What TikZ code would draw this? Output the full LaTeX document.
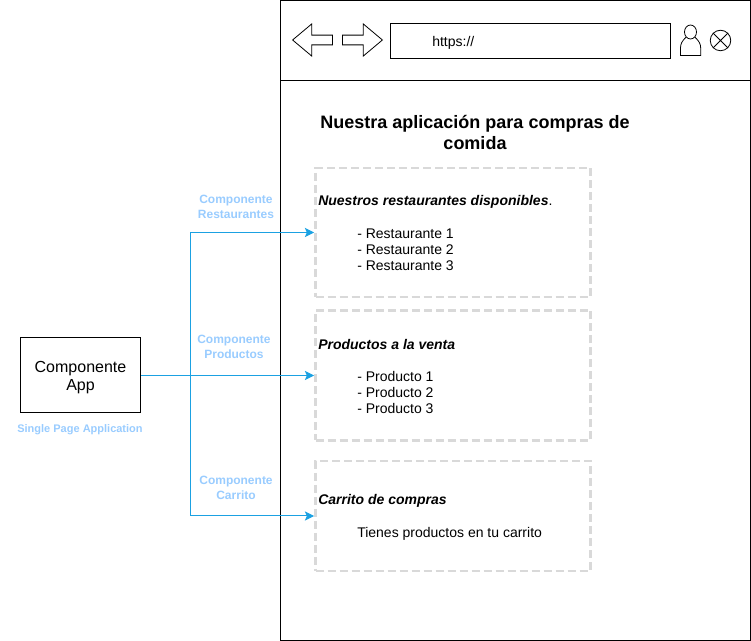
\documentclass[tikz,border=0pt]{standalone}
\usepackage{fontspec}
\setmainfont{Liberation Sans}
\usetikzlibrary{arrows.meta,shapes.arrows,shapes.misc,shapes.geometric}
\definecolor{linkblue}{HTML}{1BA1E2}
\definecolor{labelblue}{HTML}{99CCFF}
\definecolor{dashgray}{HTML}{D9D9D9}
\tikzset{
  x=0.75pt,y=-0.75pt,
  section/.style={draw=dashgray,line width=2pt,dash pattern=on 6pt off 3pt,inner sep=0pt},
  label/.style={text=labelblue,align=center,font=\fontsize{9}{11.2}\selectfont\bfseries},
  body/.style={anchor=west,inner sep=0pt,align=left,font=\fontsize{10.5}{12}\selectfont},
  head/.style={anchor=west,inner sep=0pt,font=\fontsize{10.5}{12}\selectfont\bfseries\itshape},
  navarrow/.style={draw=black,line width=0.6pt,shape=single arrow,single arrow head extend=7.5pt,single arrow tip angle=80,minimum width=32*0.75pt,minimum height=40*0.75pt,inner sep=3pt},
  link/.style={draw=linkblue,line width=0.75pt,-{Stealth[length=7pt,width=7pt,inset=1.5pt]}}
}
\begin{document}
\begin{tikzpicture}
\useasboundingbox (0,0) rectangle (751,641);
% browser window
\node[draw=black,line width=0.75pt,minimum width=469.5*0.75pt,minimum height=640*0.75pt,inner sep=0pt] (window) at (515.5,320.5) {};
\coordinate (barleft) at (281,81);
\coordinate (barright) at (750,81);
\draw[line width=0.75pt] (barleft) -- (barright);
% toolbar
\node[navarrow,shape border rotate=180] (back) at (315.5,40) {};
\node[navarrow] (forward) at (359.5,40) {};
\node[draw=black,line width=0.75pt,minimum width=280*0.75pt,minimum height=35*0.75pt,inner sep=0pt] (urlbar) at (530,41.5) {};
\node[anchor=west,inner sep=0pt,font=\fontsize{10.5}{12}\selectfont] (urltext) at (432,43) {https://};
\node[draw=black,line width=0.6pt,ellipse,minimum width=12*0.75pt,minimum height=14*0.75pt,inner sep=0pt] (userhead) at (690.5,32) {};
\draw[line width=0.6pt] (userhead.south west) .. controls (682,41) and (680.5,44) .. (680.5,48) -- (680.5,55.5) -- (700.7,55.5) -- (700.7,48) .. controls (700.7,44) and (699,41) .. (userhead.south east);
\node[draw=black,line width=0.6pt,cross out,minimum size=14.2*0.75pt,inner sep=0pt] (closex) at (720.5,40.5) {};
\node[draw=black,line width=0.6pt,circle,minimum size=20.5*0.75pt,inner sep=0pt] (closebtn) at (720.5,40.5) {};
% title
\node[align=center,inner sep=0pt,font=\fontsize{13.5}{15.75}\selectfont\bfseries] (title) at (475,132.5) {Nuestra aplicación para compras de\\comida};
% sections
\node[section,minimum width=275*0.75pt,minimum height=129*0.75pt] (secrest) at (453,232.5) {};
\node[section,minimum width=275*0.75pt,minimum height=130*0.75pt] (secprod) at (453,375.5) {};
\node[section,minimum width=275*0.75pt,minimum height=110*0.75pt] (seccart) at (453,516) {};
\node[head] (headrest) at (318,202) {Nuestros restaurantes disponibles{\normalfont.}};
\node[body] (listrest) at (357,250) {- Restaurante 1\\- Restaurante 2\\- Restaurante 3};
\node[head] (headprod) at (318,344.5) {Productos a la venta};
\node[body] (listprod) at (357,392) {- Producto 1\\- Producto 2\\- Producto 3};
\node[head] (headcart) at (318,501) {Carrito de compras};
\node[body] (textcart) at (357,533.5) {Tienes productos en tu carrito};
% app
\node[draw=black,line width=0.75pt,minimum width=120*0.75pt,minimum height=75*0.75pt,inner sep=0pt,align=center,font=\fontsize{12}{13.5}\selectfont] (app) at (80.5,375.5) {\rule{0pt}{12pt}Componente\\App};
\node[label,font=\fontsize{8.25}{10}\selectfont\bfseries] (applabel) at (80,429.5) {Single Page Application};
% links
\coordinate (bend) at (190,375.5);
\draw[link] (app.east) -- (secprod.west);
\draw[link] (bend) |- (secrest.west);
\draw[link] (bend) |- (seccart.west);
\node[label] (labrest) at (236,207) {Componente\\Restaurantes};
\node[label] (labprod) at (234,347) {Componente\\Productos};
\node[label] (labcart) at (236,488) {Componente\\Carrito};
\end{tikzpicture}
\end{document}
